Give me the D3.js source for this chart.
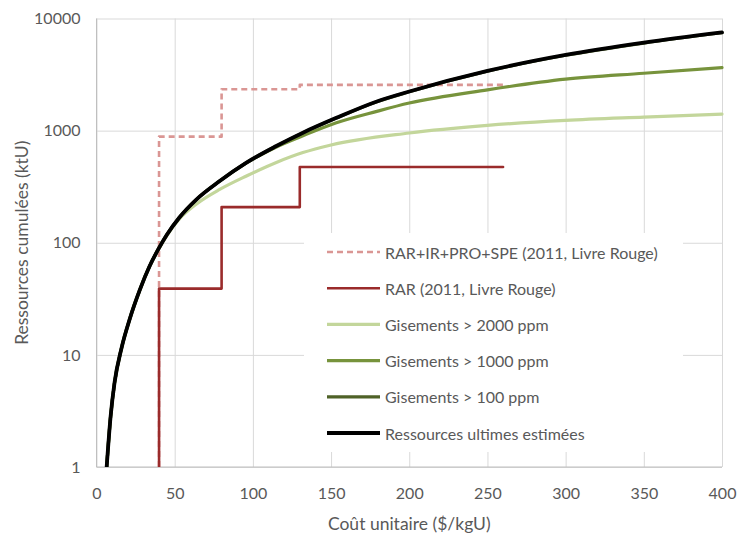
<!DOCTYPE html>
<html lang="fr">
<head>
<meta charset="utf-8">
<script src="https://cdn.jsdelivr.net/npm/d3@7"></script>
<style>
  html, body { margin: 0; padding: 0; background: #ffffff; }
  svg { display: block; font-family: Lato, "Open Sans", sans-serif; }
</style>
</head>
<body>
<svg id="chart" width="738" height="533"></svg>
<script>
// Cumulative uranium resources (ktU) against unit cost ($/kgU)

// Axis ticks
const xTicks = [0, 50, 100, 150, 200, 250, 300, 350, 400];
const yTicks = [1, 10, 100, 1000, 10000];

// RAR+IR+PRO+SPE (2011, Red Book) — stepped cumulative series
const redBookAllCost = [40, 40, 80, 80, 130, 130, 260];
const redBookAllKtU  = [1, 884, 884, 2340, 2340, 2560, 2560];

// RAR (2011, Red Book)
const rarCost = [40, 40, 80, 80, 130, 130, 260];
const rarKtU  = [1, 39, 39, 208, 208, 474, 474];

// Deposits > 2000 ppm
const dep2000Cost = [6.5, 9, 11.5, 16, 21.3, 27.7, 34, 40, 45, 53, 64, 78.8, 95.9, 115, 132, 150, 200, 250, 300, 350, 400];
const dep2000KtU  = [1, 2.8, 5.6, 11.5, 21, 38, 62, 89, 116, 163, 222, 299, 394, 520, 637, 745, 953, 1114, 1236, 1322, 1406];

// Deposits > 1000 ppm
const dep1000Cost = [6.5, 9, 11.5, 16, 21.3, 27.7, 34, 40, 45, 53, 64, 78.8, 95.9, 115, 132, 153.4, 179.3, 200, 250, 300, 350, 400];
const dep1000KtU  = [1, 2.8, 5.6, 11.5, 21, 38, 62, 90, 118, 168, 244, 355, 515, 715, 900, 1175, 1486, 1762, 2311, 2877, 3250, 3647];

// Deposits > 100 ppm
const dep100Cost = [6.5, 9, 11.5, 16, 21.3, 27.7, 34, 40, 45, 53, 64, 78.8, 95.9, 115, 132, 153.4, 179.3, 200, 250, 300, 350, 400];
const dep100KtU  = [1, 2.8, 5.6, 11.5, 21, 38, 62, 90, 118, 168, 244, 355, 518, 728, 955, 1295, 1810, 2220, 3390, 4700, 6040, 7460];

// Estimated ultimate resources
const ultimateCost = [6.5, 9, 11.5, 16, 21.3, 27.7, 34, 40, 45, 53, 64, 78.8, 95.9, 115, 132, 153.4, 179.3, 200, 250, 300, 350, 400];
const ultimateKtU  = [1, 2.8, 5.6, 11.5, 21, 38, 62, 90, 118, 168, 244, 355, 518, 729, 959, 1300, 1820, 2234, 3412, 4732, 6087, 7520];

const seriesNames = [
  "RAR+IR+PRO+SPE (2011, Livre Rouge)",
  "RAR (2011, Livre Rouge)",
  "Gisements > 2000 ppm",
  "Gisements > 1000 ppm",
  "Gisements > 100 ppm",
  "Ressources ultimes estimées"
];

const zip = (xs, ys) => xs.map((x, i) => ({ x, y: ys[i] }));

const series = [
  { name: seriesNames[0], pts: zip(redBookAllCost, redBookAllKtU), color: "#da9694", width: 2.6, dash: "6,4", step: true },
  { name: seriesNames[1], pts: zip(rarCost, rarKtU), color: "#9a2b2b", width: 2.6, dash: null, step: true },
  { name: seriesNames[2], pts: zip(dep2000Cost, dep2000KtU), color: "#c3d69b", width: 3.2, dash: null },
  { name: seriesNames[3], pts: zip(dep1000Cost, dep1000KtU), color: "#77933c", width: 3.2, dash: null },
  { name: seriesNames[4], pts: zip(dep100Cost, dep100KtU), color: "#4f6228", width: 3.2, dash: null },
  { name: seriesNames[5], pts: zip(ultimateCost, ultimateKtU), color: "#000000", width: 3.8, dash: null }
];

const svg = d3.select("#chart");
const plot = { left: 96.5, right: 722, top: 18.5, bottom: 467 };

const x = d3.scaleLinear().domain([0, 400]).range([plot.left, plot.right]);
const y = d3.scaleLog().domain([1, 10000]).range([plot.bottom, plot.top]);

const textColor = "#595959";
const gridColor = "#d9d9d9";

// Gridlines
const gx = svg.append("g")
  .attr("transform", `translate(0,${plot.bottom})`)
  .call(d3.axisBottom(x).tickValues(xTicks).tickSize(-(plot.bottom - plot.top)).tickFormat(""));
gx.select(".domain").remove();
gx.selectAll("line").attr("stroke", gridColor).attr("stroke-width", 1);

const gy = svg.append("g")
  .attr("transform", `translate(${plot.left},0)`)
  .call(d3.axisLeft(y).tickValues(yTicks).tickSize(-(plot.right - plot.left)).tickFormat(""));
gy.select(".domain").remove();
gy.selectAll("line").attr("stroke", gridColor).attr("stroke-width", 1);

// Axis lines
svg.append("line")
  .attr("x1", plot.left).attr("x2", plot.left)
  .attr("y1", plot.top).attr("y2", plot.bottom)
  .attr("stroke", "#bfbfbf").attr("stroke-width", 1);
svg.append("line")
  .attr("x1", plot.left).attr("x2", plot.right)
  .attr("y1", plot.bottom).attr("y2", plot.bottom)
  .attr("stroke", "#bfbfbf").attr("stroke-width", 1);

// Tick labels
const xl = svg.append("g")
  .attr("transform", `translate(0,${plot.bottom + 20})`)
  .call(d3.axisBottom(x).tickValues(xTicks).tickSize(0).tickPadding(0).tickFormat(d3.format("d")));
xl.select(".domain").remove();
xl.selectAll("text").attr("font-size", 16).attr("fill", textColor)
  .attr("font-family", "Lato, sans-serif").attr("dy", "0.35em").attr("y", 6);

const yl = svg.append("g")
  .attr("transform", `translate(${plot.left - 16},0)`)
  .call(d3.axisLeft(y).tickValues(yTicks).tickSize(0).tickPadding(0).tickFormat(d3.format("d")));
yl.select(".domain").remove();
yl.selectAll("text").attr("font-size", 16).attr("fill", textColor)
  .attr("font-family", "Lato, sans-serif");

// Axis titles
svg.append("text")
  .attr("x", (plot.left + plot.right) / 2)
  .attr("y", 523)
  .attr("text-anchor", "middle")
  .attr("dominant-baseline", "central")
  .attr("font-size", 17.5)
  .attr("fill", textColor)
  .text("Coût unitaire ($/kgU)");

svg.append("text")
  .attr("transform", `translate(21,${(plot.top + plot.bottom) / 2}) rotate(-90)`)
  .attr("text-anchor", "middle")
  .attr("dominant-baseline", "central")
  .attr("font-size", 17.5)
  .attr("fill", textColor)
  .text("Ressources cumulées (ktU)");

// Plot clip
svg.append("clipPath").attr("id", "plot-clip")
  .append("rect")
  .attr("x", plot.left).attr("y", plot.top - 4)
  .attr("width", plot.right - plot.left + 4)
  .attr("height", plot.bottom - plot.top + 4);

const lines = svg.append("g").attr("clip-path", "url(#plot-clip)");

series.forEach(s => {
  const gen = d3.line()
    .x(d => x(d.x))
    .y(d => y(d.y))
    .curve(s.step ? d3.curveLinear : d3.curveMonotoneX);
  lines.append("path")
    .datum(s.pts)
    .attr("fill", "none")
    .attr("stroke", s.color)
    .attr("stroke-width", s.width)
    .attr("stroke-dasharray", s.dash)
    .attr("stroke-linejoin", "round")
    .attr("stroke-linecap", s.dash ? "butt" : "round")
    .attr("d", gen);
});

// Legend
const legend = svg.append("g");
legend.append("rect")
  .attr("x", 304).attr("y", 233)
  .attr("width", 379).attr("height", 219)
  .attr("fill", "#ffffff");

const rowY = d3.scalePoint().domain(seriesNames).range([252, 433]);

series.forEach(s => {
  const ry = rowY(s.name);
  legend.append("line")
    .attr("x1", 327).attr("x2", 380)
    .attr("y1", ry).attr("y2", ry)
    .attr("stroke", s.color)
    .attr("stroke-width", s.width)
    .attr("stroke-dasharray", s.dash);
  legend.append("text")
    .attr("x", 385)
    .attr("y", ry)
    .attr("dominant-baseline", "central")
    .attr("font-size", 16)
    .attr("fill", textColor)
    .text(s.name);
});
</script>
</body>
</html>
